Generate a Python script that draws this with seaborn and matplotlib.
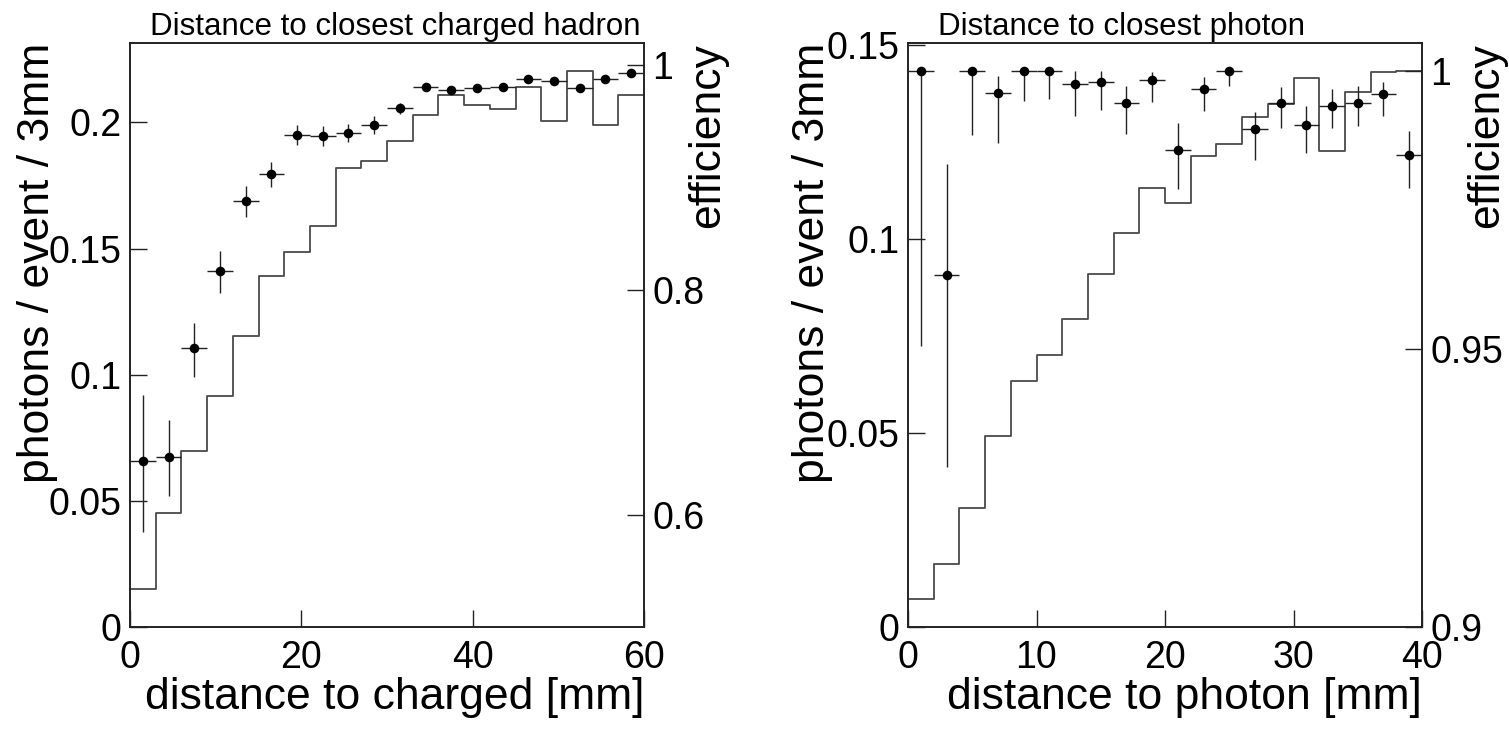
import numpy as np
import pandas as pd
import matplotlib
matplotlib.use("Agg")
import matplotlib.pyplot as plt
import seaborn as sns

# ---------------- data: distance to closest charged hadron ----------------
ch_edges = [0, 3, 6, 9, 12, 15, 18, 21, 24, 27, 30, 33, 36, 39, 42, 45, 48, 51, 54, 57, 60]
ch_centers = [1.5, 4.5, 7.5, 10.5, 13.5, 16.5, 19.5, 22.5, 25.5, 28.5,
              31.5, 34.5, 37.5, 40.5, 43.5, 46.5, 49.5, 52.5, 55.5, 58.5]
ch_hist = [0.015, 0.045, 0.0696, 0.0917, 0.1154, 0.139, 0.1486, 0.159, 0.182, 0.1846,
           0.1925, 0.2028, 0.211, 0.207, 0.2055, 0.214, 0.2004, 0.2205, 0.199, 0.2107]
ch_eff = [0.648, 0.651, 0.748, 0.817, 0.879, 0.903, 0.938, 0.937, 0.940, 0.947,
          0.962, 0.981, 0.978, 0.980, 0.981, 0.988, 0.986, 0.980, 0.988, 0.993]
ch_err_lo = [0.063, 0.034, 0.025, 0.020, 0.0135, 0.011, 0.009, 0.009, 0.008, 0.0077,
             0.005, 0.0035, 0.003, 0.0035, 0.0035, 0.003, 0.003, 0.003, 0.003, 0.003]
ch_err_hi = [0.059, 0.033, 0.023, 0.018, 0.0135, 0.011, 0.009, 0.009, 0.008, 0.0077,
             0.005, 0.0035, 0.003, 0.0035, 0.0035, 0.003, 0.003, 0.003, 0.003, 0.003]

# ---------------- data: distance to closest photon ----------------
ph_edges = [0, 2, 4, 6, 8, 10, 12, 14, 16, 18, 20, 22, 24, 26, 28, 30, 32, 34, 36, 38, 40]
ph_centers = [1, 3, 5, 7, 9, 11, 13, 15, 17, 19, 21, 23, 25, 27, 29, 31, 33, 35, 37, 39]
ph_hist = [0.0073, 0.0162, 0.0307, 0.0493, 0.0633, 0.070, 0.0794, 0.0909, 0.1014, 0.113,
           0.1093, 0.1213, 0.1243, 0.1313, 0.1347, 0.1415, 0.1226, 0.1379, 0.1429, 0.1432]
ph_eff = [1.0, 0.9632, 1.0, 0.9961, 1.0, 1.0, 0.9976, 0.998, 0.9942, 0.9984,
          0.9857, 0.9968, 1.0, 0.9896, 0.9942, 0.9903, 0.9937, 0.9943, 0.9959, 0.9849]
ph_err_lo = [0.0495, 0.0345, 0.0115, 0.009, 0.0055, 0.005, 0.0057, 0.005, 0.0055, 0.004,
             0.007, 0.004, 0.0027, 0.0056, 0.0045, 0.005, 0.004, 0.0043, 0.004, 0.006]
ph_err_hi = [0.0, 0.020, 0.0, 0.003, 0.0, 0.0, 0.0023, 0.002, 0.003, 0.0013,
             0.005, 0.002, 0.0, 0.003, 0.0028, 0.0034, 0.003, 0.003, 0.002, 0.0043]

sns.set_style("ticks")
plt.rcParams['font.family'] = ['Liberation Sans', 'DejaVu Sans']
plt.rcParams['text.color'] = 'black'
plt.rcParams['axes.labelcolor'] = 'black'
plt.rcParams['xtick.color'] = 'black'
plt.rcParams['ytick.color'] = 'black'

fig = plt.figure(figsize=(15.09, 7.33), dpi=100)

H = 733.0
W = 1509.0
ax_bottom = (H - 627) / H
ax_height = 584 / H

panels = [
    dict(rect=[130 / W, ax_bottom, 514 / W, ax_height],
         edges=ch_edges, centers=ch_centers, hist=ch_hist, eff=ch_eff,
         lo=ch_err_lo, hi=ch_err_hi, xerr=1.5,
         xlim=(0, 60), xticks=[0, 20, 40, 60],
         ylim=(0, 0.2315), yticks=[0, 0.05, 0.1, 0.15, 0.2],
         yticklabels=["0", "0.05", "0.1", "0.15", "0.2"],
         elim=(0.5, 1.02), eticks=[0.6, 0.8, 1.0], eticklabels=["0.6", "0.8", "1"],
         title="Distance to closest charged hadron", title_x=(395 - 130) / 514,
         xlabel="distance to charged [mm]",
         ylab_x=(58 - 130) / 514, elab_x=1 + (687 - 644) / 514, xlab_y=-50 / 584),
    dict(rect=[908 / W, ax_bottom, 514 / W, ax_height],
         edges=ph_edges, centers=ph_centers, hist=ph_hist, eff=ph_eff,
         lo=ph_err_lo, hi=ph_err_hi, xerr=1.0,
         xlim=(0, 40), xticks=[0, 10, 20, 30, 40],
         ylim=(0, 0.1504), yticks=[0, 0.05, 0.1, 0.15],
         yticklabels=["0", "0.05", "0.1", "0.15"],
         elim=(0.9, 1.005), eticks=[0.9, 0.95, 1.0], eticklabels=["0.9", "0.95", "1"],
         title="Distance to closest photon", title_x=(1121 - 908) / 514,
         xlabel="distance to photon [mm]",
         ylab_x=(833 - 908) / 514, elab_x=1 + (1466 - 1422) / 514, xlab_y=-50 / 584),
]

for p in panels:
    ax = fig.add_axes(p["rect"])
    sns.histplot(x=p["centers"], weights=p["hist"], bins=p["edges"], element="step",
                 fill=False, color="#4a4a4a", linewidth=1.3, ax=ax)
    ax.set_xlim(*p["xlim"])
    ax.set_ylim(*p["ylim"])
    ax.set_xticks(p["xticks"])
    ax.set_xticklabels([str(t) for t in p["xticks"]])
    ax.set_yticks(p["yticks"])
    ax.set_yticklabels(p["yticklabels"])
    ax.tick_params(axis="both", direction="in", length=12, width=1.0, labelsize=27,
                   color="#222222", labelcolor="black")
    ax.tick_params(axis="x", pad=9)
    ax.tick_params(axis="y", pad=6)
    for s in ax.spines.values():
        s.set_visible(True)
        s.set_linewidth(1.2)
        s.set_color("#222222")
    ax.set_title(p["title"], fontsize=22.5, pad=6, x=p["title_x"], color="black")
    ax.set_xlabel(p["xlabel"], fontsize=32, loc="right", color="black")
    ax.xaxis.set_label_coords(1.0, p["xlab_y"])
    ax.set_ylabel("photons / event / 3mm", fontsize=32, loc="top", color="black")
    ax.yaxis.set_label_coords(p["ylab_x"], 1.0)

    ax2 = ax.twinx()
    ax2.errorbar(p["centers"], p["eff"], xerr=p["xerr"], yerr=[p["lo"], p["hi"]],
                 fmt="none", ecolor="#222222", elinewidth=1.0, capsize=0, zorder=2)
    sns.scatterplot(x=p["centers"], y=p["eff"], color="black", s=48, linewidth=0,
                    zorder=3, ax=ax2)
    ax2.set_ylim(*p["elim"])
    ax2.set_yticks(p["eticks"])
    ax2.set_yticklabels(p["eticklabels"])
    ax2.tick_params(axis="y", direction="in", length=12, width=1.0, labelsize=27, pad=6,
                    color="#222222", labelcolor="black")
    for s in ax2.spines.values():
        s.set_linewidth(1.2)
        s.set_color("#222222")
    ax2.set_ylabel("efficiency", fontsize=32, loc="top", color="black")
    ax2.yaxis.set_label_coords(p["elab_x"], 1.0)

fig.savefig("out.png", dpi=100)
